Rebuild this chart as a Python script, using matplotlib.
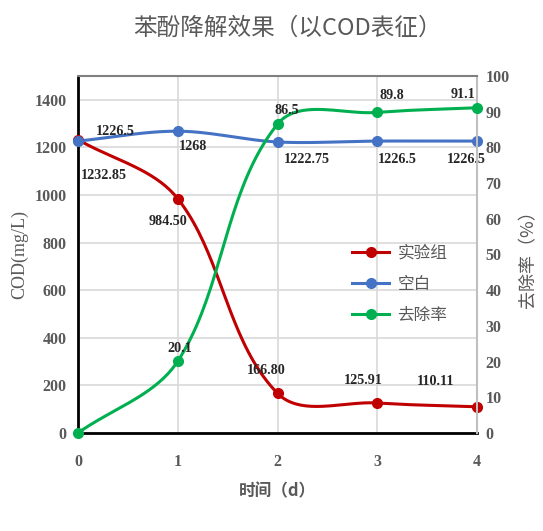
import numpy as np
import matplotlib.pyplot as plt
from matplotlib.lines import Line2D

# data
days = [0, 1, 2, 3, 4]
shiyan = [1232.85, 984.50, 166.80, 125.91, 110.11]
kongbai = [1226.5, 1268, 1222.75, 1226.5, 1226.5]
quchu = [0, 20.1, 86.5, 89.8, 91.1]
shiyan_lbl = ['1232.85', '984.50', '166.80', '125.91', '110.11']
kongbai_lbl = ['1226.5', '1268', '1222.75', '1226.5', '1226.5']
quchu_lbl = ['', '20.1', '86.5', '89.8', '91.1']

RED = '#C00000'
BLUE = '#4472C4'
GREEN = '#00B050'
GRAY = '#595959'
CJK = ['Noto Sans CJK SC', 'DejaVu Sans']
SERIF = 'Liberation Serif'

AX_BOX = [0.1436, 0.1846, 0.7349, 0.6723]
W_PX = AX_BOX[2] * 543
H_PX = AX_BOX[3] * 531


def smooth(x, y, xspan, yspan, n=40):
    # excel-like smoothed line, tangents worked out in screen space
    sx = W_PX / xspan
    sy = H_PX / yspan
    P = np.column_stack([np.asarray(x, float) * sx, np.asarray(y, float) * sy])
    m = len(P)
    tang = []
    for i in range(m):
        d = P[min(i + 1, m - 1)] - P[max(i - 1, 0)]
        tang.append(d / np.hypot(*d))
    t = np.linspace(0, 1, n)[:, None]
    out = []
    for i in range(m - 1):
        L = np.hypot(*(P[i + 1] - P[i])) / 3
        c1 = P[i] + tang[i] * L
        c2 = P[i + 1] - tang[i + 1] * L
        seg = ((1 - t) ** 3 * P[i] + 3 * (1 - t) ** 2 * t * c1
               + 3 * (1 - t) * t ** 2 * c2 + t ** 3 * P[i + 1])
        out.append(seg)
    out = np.vstack(out)
    return out[:, 0] / sx, out[:, 1] / sy


fig = plt.figure(figsize=(5.43, 5.31), dpi=100)
ax = fig.add_axes(AX_BOX)
ax2 = ax.twinx()

for ys, c in [(shiyan, RED), (kongbai, BLUE)]:
    sx, sy = smooth(days, ys, 4, 1500)
    ax.plot(sx, sy, color=c, lw=2.2, zorder=3)
    ax.plot(days, ys, 'o', color=c, ms=7, zorder=4, clip_on=False)
sx, sy = smooth(days, quchu, 4, 100)
ax2.plot(sx, sy, color=GREEN, lw=2.2, zorder=3)
ax2.plot(days, quchu, 'o', color=GREEN, ms=7, zorder=4, clip_on=False)

# data labels (offset in pixels)
lblfont = dict(fontfamily=SERIF, fontweight='bold', fontsize=10.2, color='#262626')
red_off = [(26, -36), (-10, -23), (-11, 23), (-14, 23), (-41, 25)]
blue_off = [(37, 10), (15, -15), (29, -18), (20, -18), (-11, -18)]
green_off = [(0, 0), (2, 13), (9, 14), (15, 17), (-14, 13)]
for i, d in enumerate(days):
    ax.annotate(shiyan_lbl[i], (d, shiyan[i]), xytext=red_off[i], textcoords='offset pixels',
                ha='center', va='center', annotation_clip=False, **lblfont)
    ax.annotate(kongbai_lbl[i], (d, kongbai[i]), xytext=blue_off[i], textcoords='offset pixels',
                ha='center', va='center', annotation_clip=False, **lblfont)
    if quchu_lbl[i]:
        ax2.annotate(quchu_lbl[i], (d, quchu[i]), xytext=green_off[i], textcoords='offset pixels',
                     ha='center', va='center', annotation_clip=False, **lblfont)

ax.set_xlim(0, 4)
ax.set_ylim(0, 1500)
ax2.set_ylim(0, 100)
ax.set_xticks(days)
ax.set_yticks(np.arange(0, 1401, 200))
ax2.set_yticks(np.arange(0, 101, 10))
ax.grid(True, color='#D9D9D9', lw=1.2)
ax.set_axisbelow(True)

for a in (ax, ax2):
    a.tick_params(length=0, labelsize=11.5, labelcolor=GRAY)
    for t in a.get_xticklabels() + a.get_yticklabels():
        t.set_fontfamily(SERIF)
        t.set_fontweight('bold')
ax.tick_params(axis='x', pad=15)
ax.tick_params(axis='y', pad=8)
ax2.tick_params(axis='y', pad=6)

ax.spines['left'].set_color('black')
ax.spines['left'].set_linewidth(2)
ax.spines['bottom'].set_color('black')
ax.spines['bottom'].set_linewidth(2)
ax2.spines['left'].set_visible(False)
ax2.spines['bottom'].set_visible(False)
ax2.spines['top'].set_color('#808080')
ax2.spines['top'].set_linewidth(1.5)
ax2.spines['right'].set_color('#BFBFBF')
ax2.spines['right'].set_linewidth(1.5)
ax.spines['top'].set_visible(False)
ax.spines['right'].set_visible(False)

ax.set_xlabel('时间（d）', fontfamily=CJK, fontweight='bold', fontsize=12, color=GRAY, labelpad=9)
ax.set_ylabel('COD(mg/L)', fontfamily=SERIF, fontsize=13, color=GRAY, labelpad=5)
ax2.set_ylabel('去除率（%）', fontfamily=CJK, fontsize=13, color=GRAY, labelpad=7)
fig.suptitle('苯酚降解效果（以COD表征）', fontfamily=CJK, fontsize=17, color=GRAY, x=0.53, y=0.968)

handles = [Line2D([], [], color=c, lw=2.2, marker='o', ms=7) for c in (RED, BLUE, GREEN)]
leg = ax2.legend(handles, ['实验组', '空白', '去除率'], loc='upper left', bbox_to_anchor=(0.65, 0.57),
                 frameon=False, prop={'family': CJK, 'size': 12}, labelcolor=GRAY,
                 handlelength=2.2, labelspacing=0.85, handletextpad=0.5)

fig.savefig('out.png', dpi=100)
